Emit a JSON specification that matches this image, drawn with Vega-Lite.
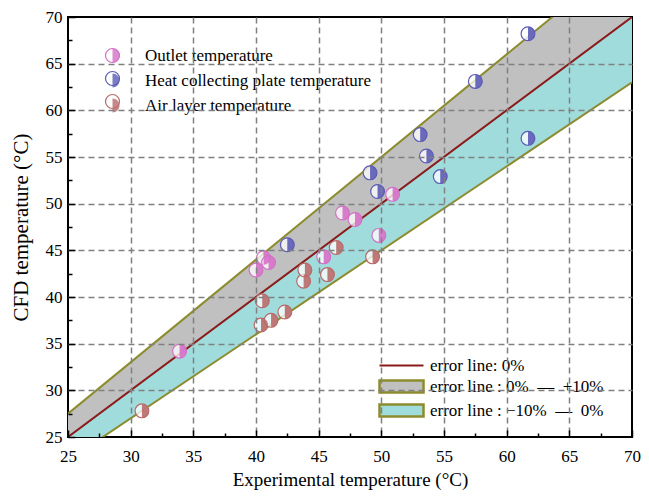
{
  "$schema": "https://vega.github.io/schema/vega-lite/v6.json",
  "width": 564,
  "height": 420,
  "autosize": "none",
  "padding": {"left": 68, "top": 17, "right": 17, "bottom": 60},
  "background": "white",
  "config": {
    "view": {"stroke": "black", "strokeWidth": 2},
    "legend": {"labelFont": "Liberation Serif", "labelColor": "black", "labelLimit": 0}
  },
  "datasets": {
    "points": [
      {"series": "Outlet temperature", "x": 33.9, "y": 34.2},
      {"series": "Outlet temperature", "x": 40.0, "y": 42.9},
      {"series": "Outlet temperature", "x": 40.6, "y": 44.2},
      {"series": "Outlet temperature", "x": 41.0, "y": 43.7},
      {"series": "Outlet temperature", "x": 45.4, "y": 44.3},
      {"series": "Outlet temperature", "x": 46.9, "y": 49.0},
      {"series": "Outlet temperature", "x": 47.9, "y": 48.3},
      {"series": "Outlet temperature", "x": 49.8, "y": 46.6},
      {"series": "Outlet temperature", "x": 50.9, "y": 51.0},
      {"series": "Heat collecting plate temperature", "x": 42.5, "y": 45.6},
      {"series": "Heat collecting plate temperature", "x": 49.1, "y": 53.3},
      {"series": "Heat collecting plate temperature", "x": 49.7, "y": 51.3},
      {"series": "Heat collecting plate temperature", "x": 53.1, "y": 57.4},
      {"series": "Heat collecting plate temperature", "x": 53.6, "y": 55.1},
      {"series": "Heat collecting plate temperature", "x": 54.7, "y": 52.9},
      {"series": "Heat collecting plate temperature", "x": 57.5, "y": 63.1},
      {"series": "Heat collecting plate temperature", "x": 61.7, "y": 68.2},
      {"series": "Heat collecting plate temperature", "x": 61.7, "y": 57.0},
      {"series": "Air layer temperature", "x": 30.9, "y": 27.8},
      {"series": "Air layer temperature", "x": 40.4, "y": 37.0},
      {"series": "Air layer temperature", "x": 40.5, "y": 39.6},
      {"series": "Air layer temperature", "x": 41.2, "y": 37.5},
      {"series": "Air layer temperature", "x": 42.3, "y": 38.4},
      {"series": "Air layer temperature", "x": 43.8, "y": 41.7},
      {"series": "Air layer temperature", "x": 43.9, "y": 42.9},
      {"series": "Air layer temperature", "x": 45.7, "y": 42.4},
      {"series": "Air layer temperature", "x": 46.4, "y": 45.3},
      {"series": "Air layer temperature", "x": 49.3, "y": 44.3}
    ],
    "bands": [
      {"band": "plus", "x": 25, "y": 25, "y2": 27.5},
      {"band": "plus", "x": 70, "y": 70, "y2": 77},
      {"band": "minus", "x": 25, "y": 22.5, "y2": 25},
      {"band": "minus", "x": 70, "y": 63, "y2": 70}
    ],
    "lines": [
      {"line": "zero", "x": 25, "y": 25},
      {"line": "zero", "x": 70, "y": 70},
      {"line": "upper", "x": 25, "y": 27.5},
      {"line": "upper", "x": 70, "y": 77},
      {"line": "lower", "x": 25, "y": 22.5},
      {"line": "lower", "x": 70, "y": 63}
    ]
  },
  "layer": [
    {
      "data": {"name": "bands"},
      "mark": {"type": "area", "clip": true, "opacity": 1},
      "encoding": {
        "x": {"field": "x", "type": "quantitative", "scale": {"domain": [25, 70], "nice": false, "zero": false},
          "axis": {"orient": "bottom", "values": [25, 30, 35, 40, 45, 50, 55, 60, 65, 70], "grid": false, "domain": false,
            "tickSize": -7, "tickWidth": 1.5, "tickColor": "black", "labelFlush": false, "labelOverlap": false,
            "labelFont": "Liberation Serif", "labelFontSize": 17, "labelColor": "black", "labelPadding": 18,
            "title": "Experimental temperature (°C)", "titleFont": "Liberation Serif", "titleFontSize": 19,
            "titleFontWeight": "normal", "titleColor": "black", "titlePadding": 6, "zindex": 1}},
        "y": {"field": "y", "type": "quantitative", "scale": {"domain": [25, 70], "nice": false, "zero": false},
          "axis": {"orient": "left", "values": [25, 30, 35, 40, 45, 50, 55, 60, 65, 70], "grid": false, "domain": false,
            "tickSize": -7, "tickWidth": 1.5, "tickColor": "black", "labelFlush": false, "labelOverlap": false,
            "labelFont": "Liberation Serif", "labelFontSize": 17, "labelColor": "black", "labelPadding": 13,
            "title": "CFD temperature (°C)", "titleFont": "Liberation Serif", "titleFontSize": 21,
            "titleFontWeight": "normal", "titleColor": "black", "titlePadding": 14, "zindex": 1}},
        "y2": {"field": "y2"},
        "fill": {"field": "band", "type": "nominal",
          "scale": {"domain": ["zero", "plus", "minus"], "range": ["#8b1a1a", "#c0c0c0", "#a0dcdc"]},
          "legend": {"orient": "none", "legendX": 325, "legendY": 340, "title": null, "padding": 0,
            "symbolSize": 484, "labelFontSize": 17, "labelOffset": 20, "rowPadding": 1, "symbolOpacity": 1,
            "symbolType": {"expr": "datum.value === 'zero' ? 'M-2,0H2' : 'M-2,-0.55H2V0.55H-2Z'"},
            "symbolStrokeColor": {"expr": "datum.value === 'zero' ? '#8b1a1a' : '#8c8c2e'"},
            "symbolStrokeWidth": {"expr": "datum.value === 'zero' ? 2 : 2.5"},
            "labelExpr": "datum.value === 'zero' ? 'error line: 0%' : datum.value === 'plus' ? 'error line : 0%\u00a0\u00a0\u2014\u00a0\u00a0+10%' : 'error line : \u221210%\u00a0\u00a0\u2014\u00a0\u00a00%'"}}
      }
    },
    {
      "data": {"name": "lines"},
      "mark": {"type": "line", "clip": true, "strokeWidth": 2},
      "encoding": {
        "x": {"field": "x", "type": "quantitative", "scale": {"domain": [25, 70], "nice": false, "zero": false},
          "axis": {"orient": "bottom", "values": [27.5, 32.5, 37.5, 42.5, 47.5, 52.5, 57.5, 62.5, 67.5], "grid": false,
            "domain": false, "labels": false, "title": null, "tickSize": -4, "tickWidth": 1.5, "tickColor": "black", "zindex": 1}},
        "y": {"field": "y", "type": "quantitative", "scale": {"domain": [25, 70], "nice": false, "zero": false},
          "axis": {"orient": "left", "values": [27.5, 32.5, 37.5, 42.5, 47.5, 52.5, 57.5, 62.5, 67.5], "grid": false,
            "domain": false, "labels": false, "title": null, "tickSize": -4, "tickWidth": 1.5, "tickColor": "black", "zindex": 1}},
        "detail": {"field": "line"},
        "stroke": {"field": "line", "type": "nominal",
          "scale": {"domain": ["zero", "upper", "lower"], "range": ["#8b1a1a", "#8c8c2e", "#8c8c2e"]}, "legend": null}
      }
    },
    {
      "data": {"name": "points"},
      "mark": {"type": "point", "shape": "circle", "filled": true, "fill": "white", "fillOpacity": 0.75, "strokeWidth": 1.2, "size": 190, "opacity": 1},
      "encoding": {
        "x": {"field": "x", "type": "quantitative", "scale": {"domain": [25, 70], "nice": false, "zero": false},
          "axis": {"orient": "bottom", "values": [30, 35, 40, 45, 50, 55, 60, 65], "grid": true, "gridDash": [6, 4],
            "gridColor": "#808080", "gridWidth": 1.5, "ticks": false, "labels": false, "domain": false, "title": null, "zindex": 1}},
        "y": {"field": "y", "type": "quantitative", "scale": {"domain": [25, 70], "nice": false, "zero": false},
          "axis": {"orient": "left", "values": [30, 35, 40, 45, 50, 55, 60, 65], "grid": true, "gridDash": [6, 4],
            "gridColor": "#808080", "gridWidth": 1.5, "ticks": false, "labels": false, "domain": false, "title": null, "zindex": 1}},
        "stroke": {"field": "series", "type": "nominal",
          "scale": {"domain": ["Outlet temperature", "Heat collecting plate temperature", "Air layer temperature"],
            "range": ["#d36fc6", "#5b5bb5", "#b86a6a"]},
          "legend": {"orient": "none", "legendX": 36, "legendY": 30, "title": null, "padding": 0,
            "symbolSize": 196, "labelFontSize": 17, "labelOffset": 24, "rowPadding": 4, "symbolType": "circle",
            "symbolStrokeWidth": 1.2, "symbolOpacity": 1, "labelOpacity": 0}}
      }
    },
    {
      "data": {"name": "points"},
      "mark": {"type": "point", "shape": "M0,-1A1,1 0 0,1 0,1Z", "filled": true, "strokeWidth": 0, "size": 190, "opacity": 0.9},
      "encoding": {
        "x": {"field": "x", "type": "quantitative", "scale": {"domain": [25, 70], "nice": false, "zero": false}, "axis": null},
        "y": {"field": "y", "type": "quantitative", "scale": {"domain": [25, 70], "nice": false, "zero": false}, "axis": null},
        "fill": {"field": "series", "type": "nominal",
          "scale": {"domain": ["Outlet temperature", "Heat collecting plate temperature", "Air layer temperature"],
            "range": ["#d36fc6", "#5b5bb5", "#b86a6a"]},
          "legend": {"orient": "none", "legendX": 36, "legendY": 30, "title": null, "padding": 0,
            "symbolSize": 196, "labelFontSize": 17, "labelOffset": 24, "rowPadding": 7,
            "symbolType": "M0,-1A1,1 0 0,1 0,1Z", "symbolStrokeWidth": 0, "symbolOpacity": 0.8}}
      }
    }
  ],
  "resolve": {
    "scale": {"fill": "independent", "stroke": "independent"},
    "axis": {"x": "independent", "y": "independent"}
  }
}
